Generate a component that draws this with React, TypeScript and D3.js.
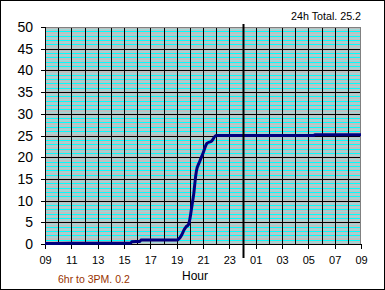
import React from "react";
import * as d3 from "d3";

// hours since 09:00 and cumulative rainfall
const hours = [0, 2, 6.5, 6.6, 7.2, 7.3, 10.0, 10.2, 10.4, 10.55, 10.7, 10.9, 11.0, 11.1, 11.2, 11.3, 11.4, 11.5, 11.75, 12.0, 12.3, 12.65, 13.0, 20.4, 20.5, 24];
const rain = [0.1, 0.2, 0.2, 0.5, 0.6, 0.9, 0.9, 1.3, 2.2, 3.2, 3.9, 4.5, 5.7, 7.6, 9.6, 11.6, 14.5, 16.8, 19.0, 20.9, 23.2, 23.7, 25.0, 25.0, 25.2, 25.2];
const xTickLabels = ["09", "11", "13", "15", "17", "19", "21", "23", "01", "03", "05", "07", "09"];
const yTicks = [0, 5, 10, 15, 20, 25, 30, 35, 40, 45, 50];
const midnightHour = 15;
const totalLabel = "24h Total. 25.2";
const partLabel = "6hr to 3PM. 0.2";
const xTitle = "Hour";

export default function App() {
  const W = 385, H = 290;
  const L = 45, R = 361, T = 27, B = 244;
  const x = d3.scaleLinear().domain([0, 24]).range([L, R]);
  const y = d3.scaleLinear().domain([0, 50]).range([B, T]);
  const line = d3.line<number>().x((_, i) => x(hours[i])).y((d) => y(d)).curve(d3.curveMonotoneX);
  const font = "'Liberation Sans', Arial, sans-serif";
  const hourGrid = d3.range(1, 24);
  const unitGrid = d3.range(0, 50, 1).filter((v) => v % 5 !== 0);
  const halfGrid = d3.range(0.5, 50, 1);
  return (
    <svg width={W} height={H} style={{ position: "fixed", left: 0, top: 0, background: "#fff" }}>
      <rect x={0.5} y={0.5} width={W - 1} height={H - 1} fill="#fff" stroke="#000" />
      <rect x={L} y={T} width={R - L} height={B - T} fill="#c0c0c0" />
      {halfGrid.map((v) => (
        <line key={"h" + v} x1={L} x2={R} y1={Math.round(y(v)) + 0.5} y2={Math.round(y(v)) + 0.5} stroke="#9cd8d8" />
      ))}
      {unitGrid.map((v) => (
        <line key={"u" + v} x1={L} x2={R} y1={Math.round(y(v)) + 0.5} y2={Math.round(y(v)) + 0.5} stroke="#00ffff" />
      ))}
      {hourGrid.map((h) => (
        <line key={"v" + h} x1={Math.round(x(h)) + 0.5} x2={Math.round(x(h)) + 0.5} y1={T} y2={B} stroke="#000" />
      ))}
      {yTicks.filter((v) => v > 0 && v < 50).map((v) => (
        <line key={"m" + v} x1={L} x2={R} y1={Math.round(y(v)) + 0.5} y2={Math.round(y(v)) + 0.5} stroke="#000" />
      ))}
      <rect x={L + 0.5} y={T + 0.5} width={R - L - 1} height={B - T} fill="none" stroke="#808080" />
      <line x1={L + 0.5} x2={L + 0.5} y1={T} y2={B + 1} stroke="#000" />
      <line x1={L - 4} x2={R} y1={B + 0.5} y2={B + 0.5} stroke="#000" />
      {yTicks.map((v) => (
        <g key={"yt" + v}>
          <line x1={L - 4} x2={L} y1={Math.round(y(v)) + 0.5} y2={Math.round(y(v)) + 0.5} stroke="#000" />
          <text x={33} y={y(v) + 5} textAnchor="end" fontFamily={font} fontSize={14} fill="#000">{v}</text>
        </g>
      ))}
      {xTickLabels.map((lab, i) => (
        <g key={"xt" + i}>
          <line x1={Math.round(x(i * 2)) + 0.5} x2={Math.round(x(i * 2)) + 0.5} y1={B} y2={B + 5} stroke="#000" />
          <text x={x(i * 2) + 0.5} y={264} textAnchor="middle" fontFamily={font} fontSize={11} fill="#000">{lab}</text>
        </g>
      ))}
      <path d={line(rain) || ""} fill="none" stroke="#000080" strokeWidth={3} strokeLinejoin="round" />
      <line x1={Math.round(x(midnightHour)) + 0.5} x2={Math.round(x(midnightHour)) + 0.5} y1={24} y2={258} stroke="#000" strokeWidth={2} />
      <text x={195} y={280} textAnchor="middle" fontFamily={font} fontSize={12} fill="#000">{xTitle}</text>
      <text x={58} y={283} fontFamily={font} fontSize={10.5} fill="#993300">{partLabel}</text>
      <text x={361} y={20} textAnchor="end" fontFamily={font} fontSize={10.7} fill="#000">{totalLabel}</text>
    </svg>
  );
}
